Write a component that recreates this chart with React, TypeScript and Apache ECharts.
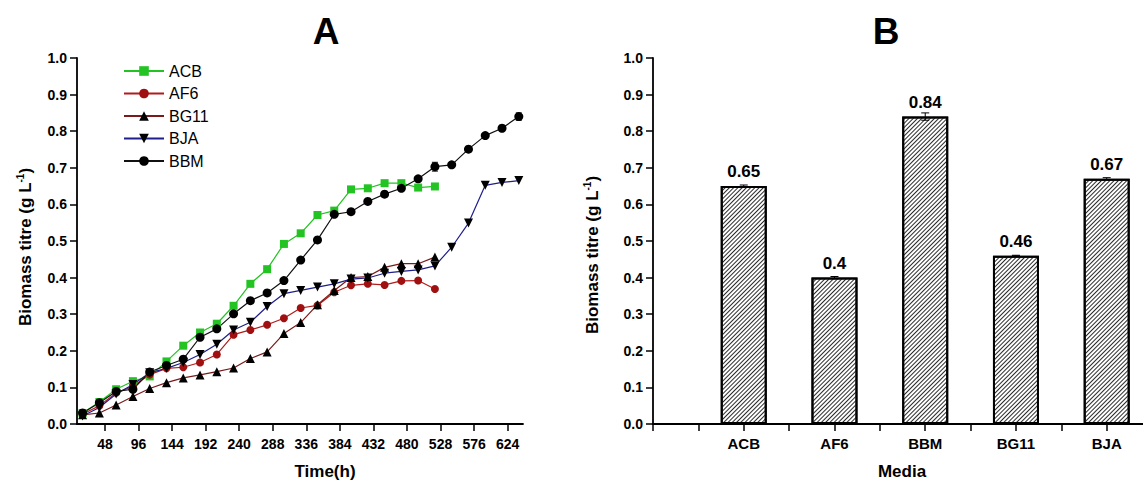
import React, { useEffect, useRef } from "react";
import * as echarts from "echarts";

// ---- Data (panel A) ----
const timesH = [16, 40, 64, 88, 112, 136, 160, 184, 208, 232, 256, 280, 304, 328, 352, 376, 400, 424, 448, 472, 496, 520, 544, 568, 592, 616, 640];
const acb = [0.03, 0.06, 0.095, 0.117, 0.13, 0.171, 0.214, 0.25, 0.274, 0.323, 0.383, 0.423, 0.492, 0.521, 0.571, 0.583, 0.641, 0.644, 0.658, 0.658, 0.646, 0.649];
const af6 = [0.027, 0.05, 0.085, 0.103, 0.135, 0.152, 0.155, 0.168, 0.19, 0.244, 0.257, 0.271, 0.289, 0.317, 0.324, 0.36, 0.379, 0.383, 0.38, 0.391, 0.392, 0.369];
const bg11 = [0.025, 0.03, 0.052, 0.075, 0.097, 0.113, 0.126, 0.134, 0.143, 0.153, 0.179, 0.197, 0.247, 0.277, 0.326, 0.365, 0.4, 0.403, 0.428, 0.438, 0.438, 0.456];
const bja = [0.022, 0.045, 0.082, 0.108, 0.14, 0.152, 0.168, 0.19, 0.218, 0.257, 0.278, 0.321, 0.356, 0.365, 0.374, 0.383, 0.396, 0.399, 0.412, 0.417, 0.421, 0.432, 0.483, 0.549, 0.652, 0.66, 0.665];
const bbm = [0.03, 0.058, 0.089, 0.095, 0.142, 0.16, 0.177, 0.237, 0.26, 0.301, 0.337, 0.358, 0.392, 0.448, 0.503, 0.573, 0.58, 0.608, 0.628, 0.644, 0.67, 0.703, 0.708, 0.751, 0.788, 0.808, 0.84];
const bbmErr = [0, 0, 0, 0, 0, 0, 0, 0, 0, 0, 0, 0, 0, 0, 0, 0, 0, 0, 0, 0, 0, 0.012, 0, 0, 0, 0, 0.01];
const timeTicks = [48, 96, 144, 192, 240, 288, 336, 384, 432, 480, 528, 576, 624];

// ---- Data (panel B) ----
const media = ["ACB", "AF6", "BBM", "BG11", "BJA"];
const finalTitre = [0.65, 0.4, 0.84, 0.46, 0.67];
const finalErr = [0.003, 0.003, 0.01, 0.001, 0.003];

const FONT = 'Arial, "Liberation Sans", Helvetica, sans-serif';

const pairs = (vals: number[]) => vals.map((v, i) => [timesH[i], v]);

function errorRender(capHalf: number) {
  return (params: any, api: any) => {
    const x = api.value(0);
    const y = api.value(1);
    const e = api.value(2);
    if (!e) return null;
    const top = api.coord([x, y + e]);
    const bot = api.coord([x, y - e]);
    const st = { stroke: "#000", lineWidth: 1 };
    return {
      type: "group",
      children: [
        { type: "line", shape: { x1: top[0], y1: top[1], x2: bot[0], y2: bot[1] }, style: st },
        { type: "line", shape: { x1: top[0] - capHalf, y1: top[1], x2: top[0] + capHalf, y2: top[1] }, style: st },
        { type: "line", shape: { x1: bot[0] - capHalf, y1: bot[1], x2: bot[0] + capHalf, y2: bot[1] }, style: st },
      ],
    };
  };
}

const axisCommon = {
  axisLine: { show: true, lineStyle: { color: "#000", width: 1.8 } },
  axisTick: { show: true, inside: false, length: 7, lineStyle: { color: "#000", width: 1.5 } },
  splitLine: { show: false },
};

const yAxisCommon = (gridIndex: number) => ({
  type: "value",
  gridIndex,
  min: 0,
  max: 1,
  interval: 0.1,
  ...axisCommon,
  axisLabel: {
    margin: 10,
    color: "#000",
    fontFamily: FONT,
    fontWeight: "bold",
    fontSize: 14,
    formatter: (v: number) => v.toFixed(1),
  },
});

export default function App() {
  const ref = useRef<HTMLDivElement>(null);

  useEffect(() => {
    if (!ref.current) return;
    const chart = echarts.init(ref.current, undefined, { renderer: "svg" });

    const lineSeries = (name: string, vals: number[], lineColor: string, markColor: string, symbol: string, size: number, rotate = 0) => ({
      name,
      type: "line",
      xAxisIndex: 0,
      yAxisIndex: 0,
      data: pairs(vals),
      symbol,
      symbolSize: size,
      symbolRotate: rotate,
      showSymbol: true,
      lineStyle: { color: lineColor, width: 1.2 },
      itemStyle: { color: markColor, borderColor: markColor, borderWidth: 0 },
      emphasis: { disabled: true },
      z: 3,
    });

    const yName = {
      rich: {
        a: { fontFamily: FONT, fontWeight: "bold", fontSize: 17, fill: "#000" },
        s: { fontFamily: FONT, fontWeight: "bold", fontSize: 10, fill: "#000", padding: [0, 0, 9, 0] },
      },
    };

    chart.setOption({
      animation: false,
      backgroundColor: "#fff",
      textStyle: { fontFamily: FONT },
      grid: [
        { left: 77, top: 58, width: 446, bottom: 57, containLabel: false },
        { left: 653, top: 58, right: 0, bottom: 57, containLabel: false },
      ],
      legend: {
        data: ["ACB", "AF6", "BG11", "BJA", "BBM"],
        orient: "vertical",
        left: 123,
        top: 63,
        padding: 0,
        itemWidth: 40,
        itemHeight: 12,
        itemGap: 6.5,
        textStyle: { fontFamily: FONT, fontSize: 16, color: "#000", lineHeight: 16 },
        selectedMode: false,
      },
      xAxis: [
        {
          type: "value",
          gridIndex: 0,
          min: 8,
          max: 646,
          ...axisCommon,
          axisTick: { ...axisCommon.axisTick, customValues: timeTicks },
          axisLabel: {
            customValues: timeTicks,
            margin: 13,
            color: "#000",
            fontFamily: FONT,
            fontWeight: "bold",
            fontSize: 14,
          },
        },
        {
          type: "value",
          gridIndex: 1,
          min: 0,
          max: 5.4,
          ...axisCommon,
          axisTick: { ...axisCommon.axisTick, customValues: [0, 0.5, 1, 1.5, 2, 2.5, 3, 3.5, 4, 4.5, 5] },
          axisLabel: {
            customValues: [1, 2, 3, 4, 5],
            margin: 12,
            color: "#000",
            fontFamily: FONT,
            fontWeight: "bold",
            fontSize: 15,
            formatter: (v: number) => media[Math.round(v) - 1] ?? "",
          },
        },
      ],
      yAxis: [yAxisCommon(0), yAxisCommon(1)],
      series: [
        lineSeries("ACB", acb, "#22c322", "#22c322", "rect", 8),
        lineSeries("AF6", af6, "#b01c1c", "#a01010", "circle", 8),
        lineSeries("BG11", bg11, "#7a1a1a", "#000", "triangle", 9),
        lineSeries("BJA", bja, "#1e1e8c", "#000", "triangle", 9, 180),
        lineSeries("BBM", bbm, "#111", "#000", "circle", 9),
        {
          type: "custom",
          xAxisIndex: 0,
          yAxisIndex: 0,
          data: bbm.map((v, i) => [timesH[i], v, bbmErr[i]]),
          renderItem: errorRender(3),
          z: 4,
          silent: true,
        },
        {
          type: "bar",
          xAxisIndex: 1,
          yAxisIndex: 1,
          barWidth: 46,
          data: media.map((_, i) => [i + 1, finalTitre[i]]),
          itemStyle: {
            color: "#fff",
            borderColor: "#000",
            borderWidth: 2,
            decal: {
              symbol: "rect",
              symbolSize: 1,
              dashArrayX: [1, 0],
              dashArrayY: [1, 1.8],
              rotation: -Math.PI / 4,
              color: "#2a2a2a",
            },
          },
          label: {
            show: true,
            position: "top",
            distance: 6,
            color: "#000",
            fontFamily: FONT,
            fontWeight: "bold",
            fontSize: 17,
            formatter: (p: any) => String(p.value[1]),
          },
          emphasis: { disabled: true },
          z: 2,
        },
        {
          type: "custom",
          xAxisIndex: 1,
          yAxisIndex: 1,
          data: media.map((_, i) => [i + 1, finalTitre[i], finalErr[i]]),
          renderItem: errorRender(4),
          z: 5,
          silent: true,
        },
      ],
      graphic: [
        {
          type: "text",
          x: 326,
          y: 31,
          style: { text: "A", font: `bold 37px ${FONT}`, fill: "#000", textAlign: "center", textVerticalAlign: "middle" },
        },
        {
          type: "text",
          x: 886,
          y: 31,
          style: { text: "B", font: `bold 37px ${FONT}`, fill: "#000", textAlign: "center", textVerticalAlign: "middle" },
        },
        {
          type: "text",
          x: 25,
          y: 247,
          rotation: Math.PI / 2,
          style: { text: "{a|Biomass titre (g L}{s|-1}{a|)}", ...yName, textAlign: "center", textVerticalAlign: "middle" },
        },
        {
          type: "text",
          x: 592,
          y: 255,
          rotation: Math.PI / 2,
          style: { text: "{a|Biomass titre (g L}{s|-1}{a|)}", ...yName, textAlign: "center", textVerticalAlign: "middle" },
        },
        {
          type: "text",
          x: 325,
          y: 471,
          style: { text: "Time(h)", font: `bold 17px ${FONT}`, fill: "#000", textAlign: "center", textVerticalAlign: "middle" },
        },
        {
          type: "text",
          x: 902,
          y: 471,
          style: { text: "Media", font: `bold 17px ${FONT}`, fill: "#000", textAlign: "center", textVerticalAlign: "middle" },
        },
      ],
    });

    return () => chart.dispose();
  }, []);

  return <div ref={ref} style={{ position: "absolute", left: 0, top: 0, width: 1143, height: 481 }} />;
}
